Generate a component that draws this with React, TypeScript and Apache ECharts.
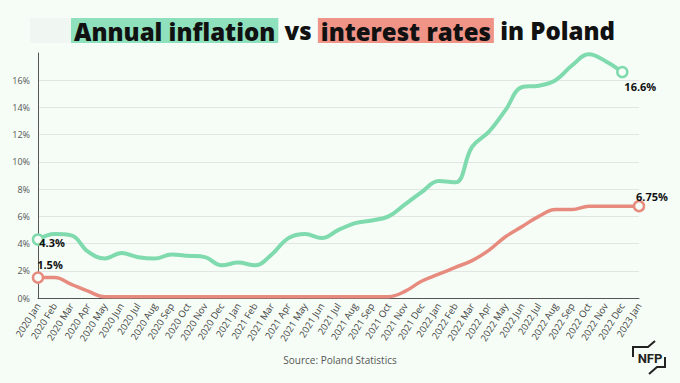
import React, { useEffect, useRef } from "react";
import * as echarts from "echarts";

const months = ["Jan", "Feb", "Mar", "Apr", "May", "Jun", "Jul", "Aug", "Sep", "Oct", "Nov", "Dec"];
const categories: string[] = [
  ...months.map((m) => "2020 " + m),
  ...months.map((m) => "2021 " + m),
  ...months.map((m) => "2022 " + m),
  "2023 Jan",
];

// Annual inflation (%), 2020 Jan – 2022 Dec
const inflation = [
  4.3, 4.7, 4.6, 3.4, 2.9, 3.3, 3.0, 2.9, 3.2, 3.1, 3.0, 2.4,
  2.6, 2.4, 3.2, 4.4, 4.7, 4.4, 5.0, 5.5, 5.7, 6.0, 6.9, 7.8,
  8.6, 8.5, 11.1, 12.2, 13.8, 15.5, 15.6, 16.0, 17.1, 17.9, 17.4, 16.6,
];

// Interest rate (%), 2020 Jan – 2023 Jan
const interest = [
  1.5, 1.5, 1.0, 0.5, 0.1, 0.1, 0.1, 0.1, 0.1, 0.1, 0.1, 0.1,
  0.1, 0.1, 0.1, 0.1, 0.1, 0.1, 0.1, 0.1, 0.1, 0.1, 0.5, 1.25,
  1.75, 2.25, 2.75, 3.5, 4.5, 5.25, 6.0, 6.5, 6.5, 6.75, 6.75, 6.75,
  6.75,
];

const yTicks = [0, 2, 4, 6, 8, 10, 12, 14, 16];

const BG = "#f6fdf7";
const GREEN = "#7fdaae";
const RED = "#e78b7f";

function buildData(values: number[], first: any, last: any) {
  return values.map((v, i) => {
    if (i === 0) return { value: v, symbol: "circle", label: first };
    if (i === values.length - 1) return { value: v, symbol: "circle", label: last };
    return { value: v, symbol: "none" };
  });
}

const labelBase = {
  show: true,
  fontFamily: "Open Sans",
  fontWeight: "bold",
  fontSize: 11,
  color: "#111",
  formatter: (p: any) => p.value + "%",
};

const TITLE_FONT = 24;

export default function App() {
  const ref = useRef<HTMLDivElement>(null);
  useEffect(() => {
    if (!ref.current) return;
    const chart = echarts.init(ref.current, undefined, { renderer: "svg" });
    const titleStyle = {
      fontFamily: "Open Sans",
      fontWeight: 800,
      fontSize: TITLE_FONT,
      lineHeight: 24,
      color: "#111",
    };
    const option: any = {
      animation: false,
      backgroundColor: BG,
      grid: { left: 38, right: 41, top: 53, bottom: 85 },
      xAxis: {
        type: "category",
        data: categories,
        boundaryGap: false,
        axisLine: { show: true, lineStyle: { color: "#555", width: 1 } },
        axisTick: { show: false },
        axisLabel: {
          rotate: 58,
          interval: 0,
          fontSize: 9.5,
          color: "#444",
          fontFamily: "Open Sans",
          margin: 6,
        },
        splitLine: { show: false },
      },
      yAxis: {
        type: "value",
        min: 0,
        max: 18,
        interval: 2,
        axisLine: { show: true, lineStyle: { color: "#555", width: 1 } },
        axisTick: { show: false },
        axisLabel: {
          fontSize: 9,
          color: "#555",
          fontFamily: "Open Sans",
          margin: 8,
          formatter: (v: number) => (yTicks.indexOf(v) >= 0 ? v + "%" : ""),
        },
        splitLine: { show: true, showMaxLine: false, lineStyle: { color: "#e2e6e2", width: 1 } },
      },
      graphic: [
        {
          type: "rect",
          shape: { x: 30, y: 18, width: 45, height: 25 },
          style: { fill: "#f0f7f2" },
          silent: true,
        },
        {
          type: "text",
          x: 71,
          y: 30.5,
          style: {
            text: "{g|Annual inflation} vs {r|interest rates} in Poland",
            fontFamily: "Open Sans",
            fontWeight: 800,
            fontSize: TITLE_FONT,
            lineHeight: 24,
            fill: "#111",
            verticalAlign: "middle",
            rich: {
              g: { ...titleStyle, backgroundColor: "#8fe0bd", padding: [1, 3, 0, 3] },
              r: { ...titleStyle, backgroundColor: "#ef9487", padding: [1, 3, 0, 3] },
            },
          },
        },
        {
          type: "text",
          x: 340,
          y: 360,
          style: {
            text: "Source: Poland Statistics",
            fontFamily: "Open Sans",
            fontSize: 10,
            fill: "#555",
            align: "center",
            verticalAlign: "middle",
          },
        },
        {
          type: "group",
          x: 633,
          y: 347,
          children: [
            {
              type: "polyline",
              shape: { points: [[0, 10], [0, 0], [15, 0], [22, -6]] },
              style: { stroke: "#222", lineWidth: 2, fill: null },
            },
            {
              type: "polyline",
              shape: { points: [[32, 10], [32, 20], [24, 20], [16, 27]] },
              style: { stroke: "#222", lineWidth: 2, fill: null },
            },
            {
              type: "text",
              x: 17,
              y: 11,
              style: {
                text: "NFP",
                fontFamily: "Liberation Sans Narrow, Roboto, sans-serif",
                fontWeight: "bold",
                fontSize: 13,
                fill: "#222",
                align: "center",
                verticalAlign: "middle",
              },
            },
          ],
        },
      ],
      series: [
        {
          name: "Interest rate",
          type: "line",
          smooth: 0.4,
          showAllSymbol: true,
          symbolSize: 10,
          lineStyle: { color: RED, width: 3.5 },
          itemStyle: { color: BG, borderColor: RED, borderWidth: 2.5 },
          emphasis: { disabled: true },
          data: buildData(
            interest,
            { ...labelBase, position: "top", distance: 3, offset: [12, 2] },
            { ...labelBase, position: "top", distance: 3, offset: [13, 5] }
          ),
        },
        {
          name: "Annual inflation",
          type: "line",
          smooth: 0.4,
          showAllSymbol: true,
          symbolSize: 10,
          lineStyle: { color: GREEN, width: 4 },
          itemStyle: { color: BG, borderColor: GREEN, borderWidth: 2.5 },
          emphasis: { disabled: true },
          data: buildData(
            inflation,
            { ...labelBase, position: "right", distance: 0, offset: [-5, 3] },
            { ...labelBase, position: "bottom", distance: 3, offset: [18, 0] }
          ),
        },
      ],
    };
    chart.setOption(option);
    return () => chart.dispose();
  }, []);
  return (
    <div
      ref={ref}
      style={{ position: "absolute", left: 0, top: 0, width: 680, height: 383, background: BG }}
    />
  );
}
